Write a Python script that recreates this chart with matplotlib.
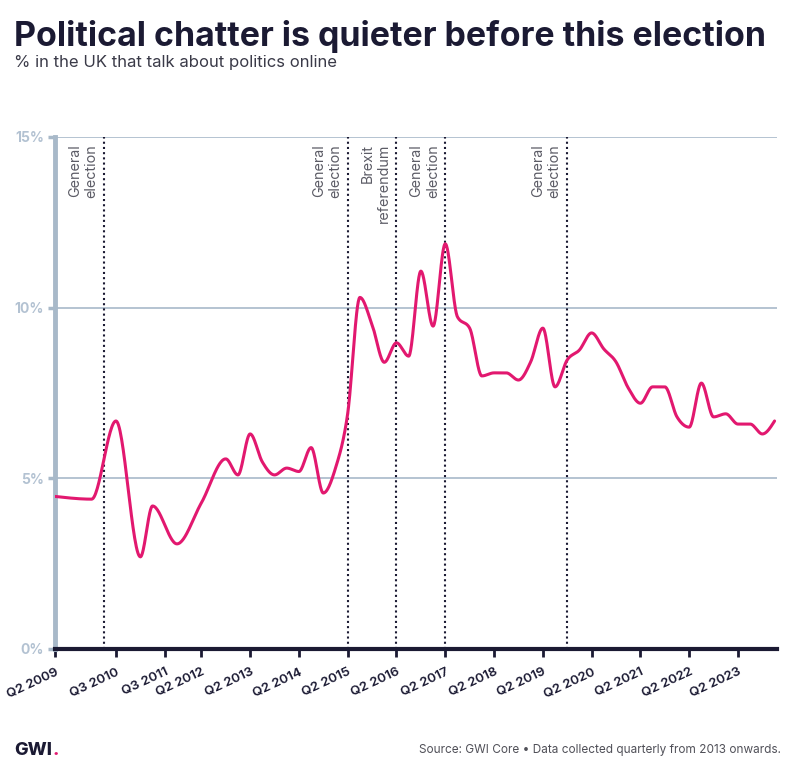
import numpy as np
import matplotlib
matplotlib.use("Agg")
import matplotlib.pyplot as plt

# ---- data ----
quarters = ["Q2 2009", "Q1 2010", "Q3 2010", "Q1 2011", "Q2 2011", "Q4 2011", "Q2 2012",
            "Q4 2012", "Q1 2013", "Q2 2013", "Q3 2013", "Q4 2013", "Q1 2014", "Q2 2014",
            "Q3 2014", "Q4 2014", "Q1 2015", "Q2 2015", "Q3 2015", "Q4 2015", "Q1 2016",
            "Q2 2016", "Q3 2016", "Q4 2016", "Q1 2017", "Q2 2017", "Q3 2017", "Q4 2017",
            "Q1 2018", "Q2 2018", "Q3 2018", "Q4 2018", "Q1 2019", "Q2 2019", "Q3 2019",
            "Q4 2019", "Q1 2020", "Q2 2020", "Q3 2020", "Q4 2020", "Q1 2021", "Q2 2021",
            "Q3 2021", "Q4 2021", "Q1 2022", "Q2 2022", "Q3 2022", "Q4 2022", "Q1 2023",
            "Q2 2023", "Q3 2023", "Q4 2023", "Q1 2024"]
share = [4.47, 4.39, 6.68, 2.70, 4.19, 3.08, 4.28,
         5.57, 5.10, 6.30, 5.48, 5.10, 5.30, 5.20,
         5.90, 4.57, 5.30, 6.90, 10.30, 9.50, 8.40,
         8.97, 8.58, 11.07, 9.46, 11.87, 9.73, 9.40,
         8.00, 8.09, 8.09, 7.88, 8.41, 9.40, 7.68,
         8.47, 8.76, 9.26, 8.79, 8.41, 7.65, 7.20,
         7.68, 7.68, 6.80, 6.50, 7.79, 6.80, 6.89,
         6.59, 6.59, 6.30, 6.68]
tick_labels = ["Q2 2009", "Q3 2010", "Q3 2011", "Q2 2012", "Q2 2013", "Q2 2014", "Q2 2015",
               "Q2 2016", "Q2 2017", "Q2 2018", "Q2 2019", "Q2 2020", "Q2 2021", "Q2 2022",
               "Q2 2023"]
event_quarters = ["Q2 2010", "Q2 2015", "Q2 2016", "Q2 2017", "Q4 2019"]
event_labels = ["General\nelection", "General\nelection", "Brexit\nreferendum",
                "General\nelection", "General\nelection"]
y_ticks = [0, 5, 10, 15]


def qidx(label):
    q, yr = label.split()
    return (int(yr) - 2009) * 4 + int(q[1]) - 2


def monotone_x(x, y, n=30):
    x = np.asarray(x, float); y = np.asarray(y, float)
    h = np.diff(x); s = np.diff(y) / h
    t = np.zeros_like(y)
    for i in range(1, len(x) - 1):
        p = (s[i - 1] * h[i] + s[i] * h[i - 1]) / (h[i - 1] + h[i])
        t[i] = (np.sign(s[i - 1]) + np.sign(s[i])) * min(abs(s[i - 1]), abs(s[i]), 0.5 * abs(p))
    t[0] = (3 * s[0] - t[1]) / 2
    t[-1] = (3 * s[-1] - t[-2]) / 2
    xs, ys = [], []
    for i in range(len(x) - 1):
        u = np.linspace(0, 1, n, endpoint=False)
        h00 = 2 * u**3 - 3 * u**2 + 1; h10 = u**3 - 2 * u**2 + u
        h01 = -2 * u**3 + 3 * u**2; h11 = u**3 - u**2
        xs.append(x[i] + u * h[i])
        ys.append(h00 * y[i] + h10 * h[i] * t[i] + h01 * y[i + 1] + h11 * h[i] * t[i + 1])
    xs.append([x[-1]]); ys.append([y[-1]])
    return np.concatenate(xs), np.concatenate(ys)


NAVY = "#1b1a33"
GRID = "#a8b9c9"
PINK = "#e2186f"
plt.rcParams['font.family'] = ['Inter', 'DejaVu Sans']

W, H = 796, 773
fig = plt.figure(figsize=(W / 100, H / 100), dpi=100)
ax = fig.add_axes([55 / W, 1 - 649 / H, 722 / W, 512 / H])

xq = [qidx(q) for q in quarters]
sx, sy = monotone_x(xq, share)
ax.plot(sx, sy, color=PINK, lw=2.2, solid_capstyle='round', zorder=4)

ax.set_xlim(0, 59.2)
ax.set_ylim(0, 15)
for v in y_ticks[1:]:
    ax.axhline(v, color=GRID, lw=1.2, zorder=1)

for q, lab in zip(event_quarters, event_labels):
    xv = qidx(q)
    ax.axvline(xv, color=NAVY, lw=1.5, ls=(0, (1, 1.5)), zorder=3)
    ax.text(xv - 0.45, 14.8, lab, rotation=90, ha='right', va='top',
            multialignment='right', fontsize=10.3, color='#5c5c66', linespacing=1.2)

for side in ['top', 'right']:
    ax.spines[side].set_visible(False)
ax.spines['left'].set_color(GRID)
ax.spines['left'].set_linewidth(3.5)
ax.spines['bottom'].set_color(NAVY)
ax.spines['bottom'].set_linewidth(3.0)
ax.spines['bottom'].set_zorder(5)

ax.set_yticks(y_ticks)
ax.set_yticklabels([f"{v}%" for v in y_ticks], fontsize=10, fontweight='bold', color='#b3c2d2')
ax.tick_params(axis='y', length=5, width=2.5, color=GRID, pad=3)

ax.set_xticks([qidx(t) for t in tick_labels])
ax.set_xticklabels(tick_labels, rotation=25, ha='right', va='top', rotation_mode='anchor',
                   fontsize=9.5, fontweight='semibold', color=NAVY)
ax.tick_params(axis='x', length=6, width=2, color=NAVY, pad=6)

# titles
title = fig.text(14 / W, 1 - 46 / H, "Political chatter is quieter before this election",
                 fontsize=25, fontweight='bold', color=NAVY, va='baseline', ha='left')
fig.canvas.draw()
r = fig.canvas.get_renderer()
bb = title.get_window_extent(r)
title.set_fontsize(25 * 749 / bb.width)

fig.text(14 / W, 1 - 67 / H, "% in the UK that talk about politics online",
         fontsize=12, color='#3a3a48', va='baseline', ha='left')

logo = fig.text(14 / W, 1 - 755 / H, "GWI", fontsize=13, fontweight='heavy',
                color=NAVY, va='baseline', ha='left')
fig.canvas.draw()
lb = logo.get_window_extent(fig.canvas.get_renderer())
fig.text((lb.x1 + 0.5) / W, 1 - 755 / H, ".", fontsize=13, fontweight='heavy',
         color=PINK, va='baseline', ha='left')

fig.text(781 / W, 1 - 753 / H, "Source: GWI Core \u2022 Data collected quarterly from 2013 onwards.",
         fontsize=8.5, color='#505058', va='baseline', ha='right')

fig.savefig("out.png", dpi=100, facecolor='white')
